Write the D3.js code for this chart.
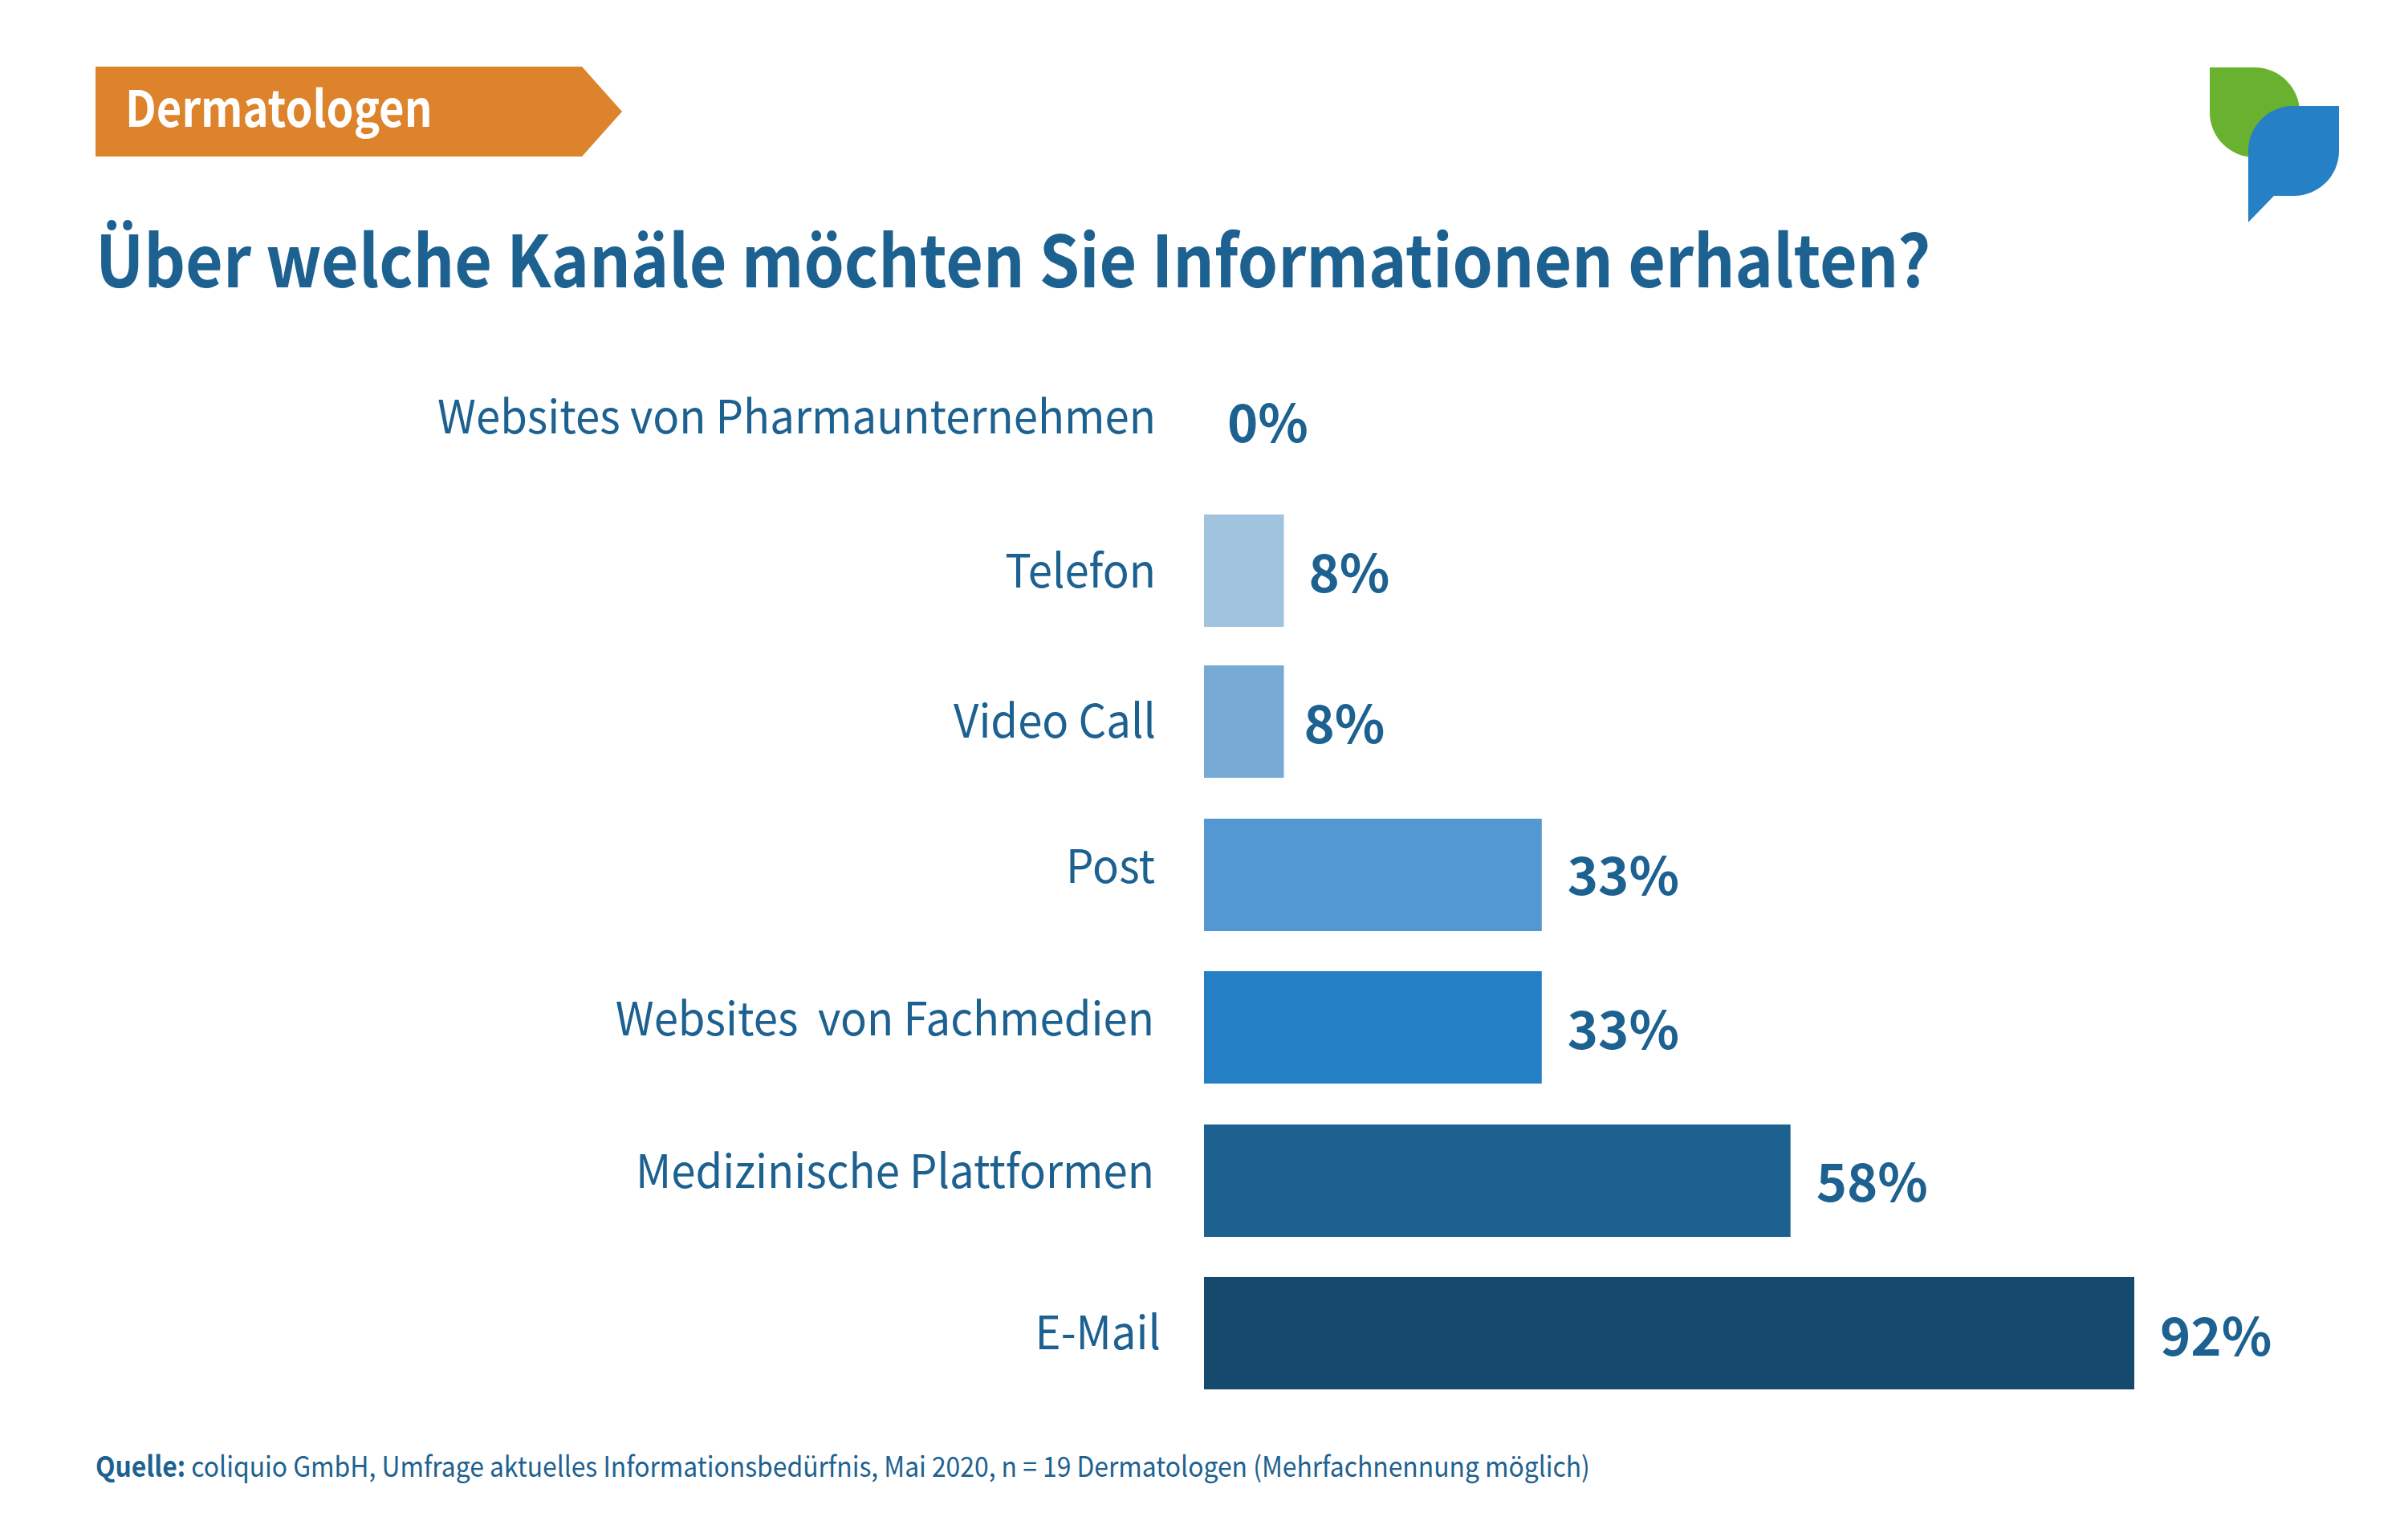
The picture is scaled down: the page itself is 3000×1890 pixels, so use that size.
<!DOCTYPE html>
<meta charset="utf-8">
<style type="text/css">
body { margin: 0; background: #fff; }
text { font-family: "Noto Sans CJK SC", "Noto Sans", sans-serif; fill: #1d6191; }
.cat text { font-size: 58px; white-space: pre; }
.value { font-size: 65px; font-weight: 700; }
</style>
<body>
</body>
<script src="https://d3js.org/d3.v7.min.js"></script>
<script>

// Values, top to bottom
var categories = ["Websites von Pharmaunternehmen", "Telefon", "Video Call", "Post", "Websites  von Fachmedien", "Medizinische Plattformen", "E-Mail"];
var values = [0, 7.9, 7.9, 33.4, 33.4, 58, 92];
var barColors = ["#a1c4de", "#a1c4de", "#76aad5", "#5398d0", "#257fc4", "#1d6191", "#16496e"];

var titleText = "Über welche Kanäle möchten Sie Informationen erhalten?";
var tagText = "Dermatologen";
var sourceBold = "Quelle:";
var sourceText = " coliquio GmbH, Umfrage aktuelles Informationsbedürfnis, Mai 2020, n = 19 Dermatologen (Mehrfachnennung möglich)";

// the rows in the original were placed by hand, so they are not quite even
var rowNudge = [0, 0, -2, -1, -1, 0, 0];
var catNudgeX = [0, 0, 0, -1, -2, -2, 6];
var catNudgeY = [8, 10, 7, -2, -2, -2, 9];
var valueNudgeX = [-3, -1, -7, 0, 0, 0, 0];
var valueNudgeY = [7, 4, 2, 1, 3, 3, 5];

var width = 3000, height = 1890;
var x0 = 1500;

var svg = d3.select("body").append("svg")
    .attr("width", width)
    .attr("height", height);

// orange tag
svg.append("path")
    .attr("d", "M119,83H725L775,139L725,195H119Z")
    .attr("fill", "#dc832b");
svg.append("text")
    .attr("transform", "translate(156,158) scale(0.877,1)")
    .style("fill", "#fff")
    .style("font-size", "62px")
    .style("font-weight", 700)
    .text(tagText);

// logo
svg.append("path")
    .attr("d", "M2753,84H2809A56,56 0 0 1 2865,140A56,56 0 0 1 2809,196A56,56 0 0 1 2753,140Z")
    .attr("fill", "#68b230");
svg.append("path")
    .attr("d", "M2914,132V188A56,56 0 0 1 2858,244H2833L2801,277V188A56,56 0 0 1 2857,132Z")
    .attr("fill", "#2680c5");

// the reference type is a bit condensed, so squeeze it horizontally
svg.append("text")
    .attr("transform", "translate(119,358) scale(0.905,1)")
    .style("font-size", "89px")
    .style("font-weight", 700)
    .text(titleText);

var xScale = d3.scaleLinear()
    .domain([0, 92])
    .range([x0, 2659]);

var yScale = d3.scaleBand()
    .domain(categories)
    .range([451, 1731])
    .paddingInner(0.263)
    .paddingOuter(0);

svg.append("g")
    .attr("class", "cat")
    .attr("transform", "translate(1440,-8)")
    .call(d3.axisLeft(yScale).tickSize(0).tickPadding(0))
    .call(function(g) { g.select(".domain").remove(); })
    .selectAll("text")
    .attr("transform", function(d, i) {
      return "translate(" + catNudgeX[i] + "," + catNudgeY[i] + ") scale(0.94,1)";
    });

svg.selectAll(".bar")
    .data(values)
  .enter().append("rect")
    .attr("class", "bar")
    .attr("x", x0)
    .attr("y", function(d, i) { return yScale(categories[i]) + rowNudge[i]; })
    .attr("width", function(d) { return xScale(d) - x0; })
    .attr("height", yScale.bandwidth())
    .attr("fill", function(d, i) { return barColors[i]; });

svg.selectAll(".value")
    .data(values)
  .enter().append("text")
    .attr("class", "value")
    .attr("x", function(d, i) { return xScale(d) + 32 + valueNudgeX[i]; })
    .attr("y", function(d, i) { return yScale(categories[i]) + yScale.bandwidth() / 2 + valueNudgeY[i]; })
    .attr("dy", "0.35em")
    .text(function(d) { return Math.round(d) + "%"; });

var source = svg.append("text")
    .attr("transform", "translate(119,1840) scale(0.91,1)")
    .style("font-size", "35px");
source.append("tspan").style("font-weight", 700).text(sourceBold);
source.append("tspan").text(sourceText);

</script>
